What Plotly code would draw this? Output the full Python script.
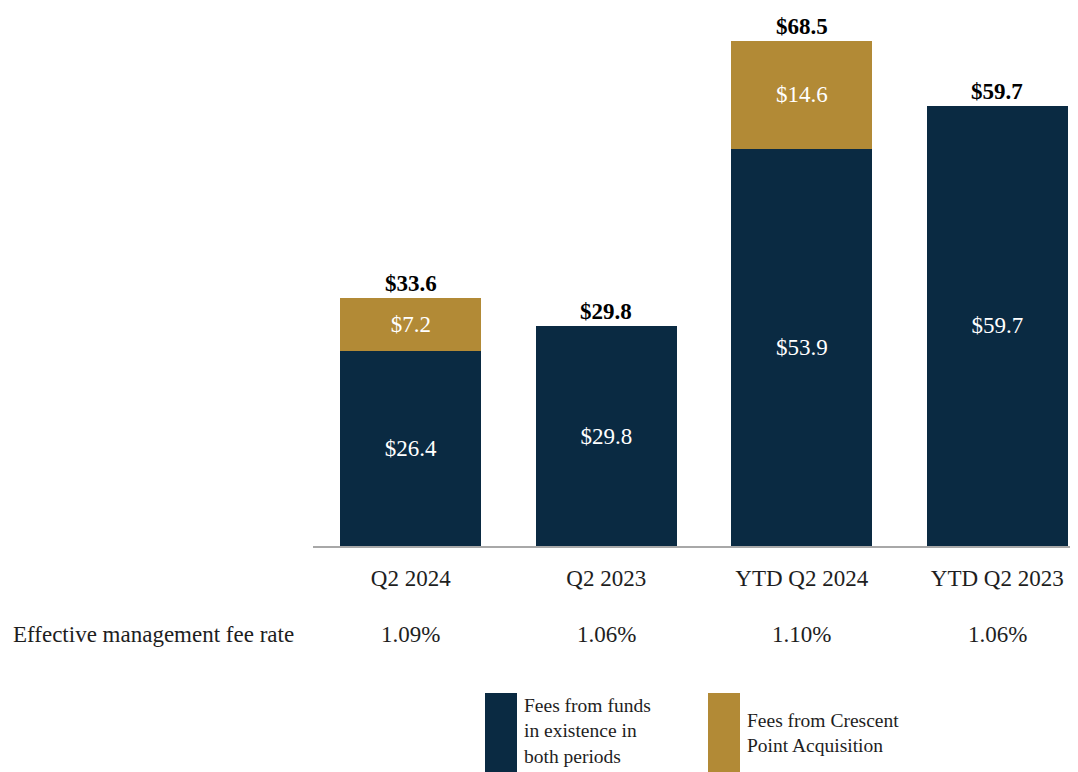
import plotly.graph_objects as go

categories = ["Q2 2024", "Q2 2023", "YTD Q2 2024", "YTD Q2 2023"]
existing_fees = [26.4, 29.8, 53.9, 59.7]
crescent_fees = [7.2, None, 14.6, None]
totals = [33.6, 29.8, 68.5, 59.7]
fee_rates = ["1.09%", "1.06%", "1.10%", "1.06%"]
legend_existing = ["Fees from funds", "in existence in", "both periods"]
legend_crescent = ["Fees from Crescent", "Point Acquisition"]

NAVY = "#0A2A42"
GOLD = "#B28A36"
TXT = "#1E1E1E"
FONT = "Liberation Serif, Times New Roman, serif"
OFF = 8  # page body margin
W, H = 1078 - OFF, 772 - OFF
FS = 23
LFS = 19.5

def px(x):
    return (x - OFF) / W

def py(y):
    return 1 - (y - OFF) / H

fig = go.Figure()
fig.add_trace(go.Bar(
    x=categories, y=existing_fees, marker_color=NAVY, marker_line_width=0,
    text=[f"${v:.1f}" for v in existing_fees], textposition="inside",
    insidetextanchor="middle", textfont=dict(color="white", size=FS, family=FONT),
    name="Fees from funds in existence in both periods", showlegend=False,
))
fig.add_trace(go.Bar(
    x=categories, y=crescent_fees, marker_color=GOLD, marker_line_width=0,
    text=[f"${v:.1f}" if v is not None else "" for v in crescent_fees], textposition="inside",
    insidetextanchor="middle", textfont=dict(color="white", size=FS, family=FONT),
    name="Fees from Crescent Point Acquisition", showlegend=False,
))

annotations = []
for c, t in zip(categories, totals):
    annotations.append(dict(x=c, y=t, xref="x", yref="y", text=f"<b>${t:.1f}</b>",
                            showarrow=False, yanchor="bottom", yshift=0,
                            font=dict(size=FS, color="black", family=FONT)))
for c, r in zip(categories, fee_rates):
    annotations.append(dict(x=c, y=py(634), xref="x", yref="paper", text=r,
                            showarrow=False, yanchor="middle",
                            font=dict(size=FS, color=TXT, family=FONT)))
annotations.append(dict(x=px(11), y=py(634), xref="paper", yref="paper",
                        text="Effective management fee rate", showarrow=False,
                        xanchor="left", yanchor="middle",
                        font=dict(size=FS, color=TXT, family=FONT)))
# legend text
annotations.append(dict(x=px(522), y=py(731), xref="paper", yref="paper",
                        text="<br>".join(legend_existing), showarrow=False,
                        xanchor="left", yanchor="middle", align="left",
                        font=dict(size=LFS, color=TXT, family=FONT)))
annotations.append(dict(x=px(745), y=py(733), xref="paper", yref="paper",
                        text="<br>".join(legend_crescent), showarrow=False,
                        xanchor="left", yanchor="middle", align="left",
                        font=dict(size=LFS, color=TXT, family=FONT)))

shapes = [
    dict(type="rect", xref="paper", yref="paper", x0=px(485), x1=px(517),
         y0=py(772), y1=py(693), fillcolor=NAVY, line_width=0),
    dict(type="rect", xref="paper", yref="paper", x0=px(708), x1=px(740),
         y0=py(772), y1=py(693), fillcolor=GOLD, line_width=0),
]

fig.update_layout(
    barmode="stack", bargap=0.28,
    width=W, height=H, margin=dict(l=0, r=0, t=0, b=0),
    paper_bgcolor="white", plot_bgcolor="white",
    annotations=annotations, shapes=shapes,
    font=dict(family=FONT, color=TXT),
)
fig.update_xaxes(domain=[px(313), 1], range=[-0.5, 3.413],
                 showline=True, linecolor="#A8A8A8", linewidth=2,
                 ticks="outside", ticklen=10, tickcolor="rgba(0,0,0,0)",
                 tickfont=dict(size=FS, color=TXT, family=FONT),
                 showgrid=False, fixedrange=True)
fig.update_yaxes(domain=[py(546), py(30)], range=[0, 70], visible=False,
                 showgrid=False, fixedrange=True)

fig.write_html("out.html")
